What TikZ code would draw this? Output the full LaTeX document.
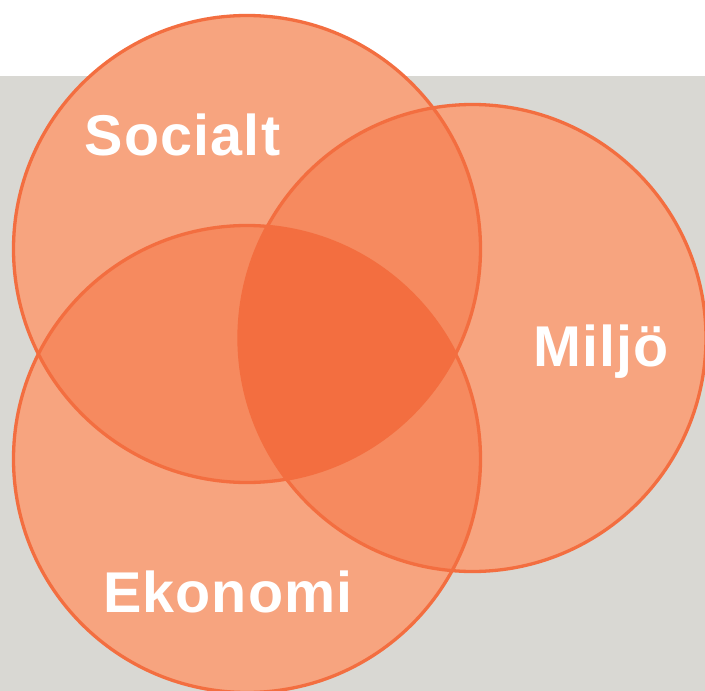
\documentclass[tikz,border=0pt]{standalone}
\usepackage{fontspec}
\setmainfont{Liberation Sans}
\newfontfamily\lblfont[LetterSpace=2.0]{Liberation Sans}
\definecolor{bggray}{HTML}{D9D8D3}
\definecolor{single}{HTML}{F7A47F}
\definecolor{pair}{HTML}{F68A5F}
\definecolor{triple}{HTML}{F36E40}
\tikzset{
  ring/.style={draw=triple, line width=3.3pt},
  label/.style={text=white, font=\lblfont\fontsize{57.5}{60}\selectfont\bfseries, anchor=base, inner sep=0pt}
}
\begin{document}
\begin{tikzpicture}[x=1pt,y=-1pt]
\useasboundingbox (0,0) rectangle (705,691);
\fill[white] (0,0) rectangle (705,691);
\fill[bggray] (0,76) rectangle (705,691);
\coordinate (S) at (247,249);
\coordinate (M) at (472.5,338);
\coordinate (E) at (247,459);
\def\R{233.5pt}
% single fills
\fill[single] (S) circle (\R);
\fill[single] (M) circle (\R);
\fill[single] (E) circle (\R);
% pairwise
\begin{scope}\clip (S) circle (\R); \fill[pair] (M) circle (\R); \fill[pair] (E) circle (\R);\end{scope}
\begin{scope}\clip (M) circle (\R); \fill[pair] (E) circle (\R);\end{scope}
% triple
\begin{scope}\clip (S) circle (\R); \clip (M) circle (\R); \fill[triple] (E) circle (\R);\end{scope}
% outlines
\draw[ring] (S) circle (\R);
\draw[ring] (M) circle (\R);
\draw[ring] (E) circle (\R);
\node[label] (socialt) at (182.5,155) {Socialt};
\node[label] (miljo) at (601,366) {Miljö};
\node[label] (ekonomi) at (228,612) {Ekonomi};
\end{tikzpicture}
\end{document}
